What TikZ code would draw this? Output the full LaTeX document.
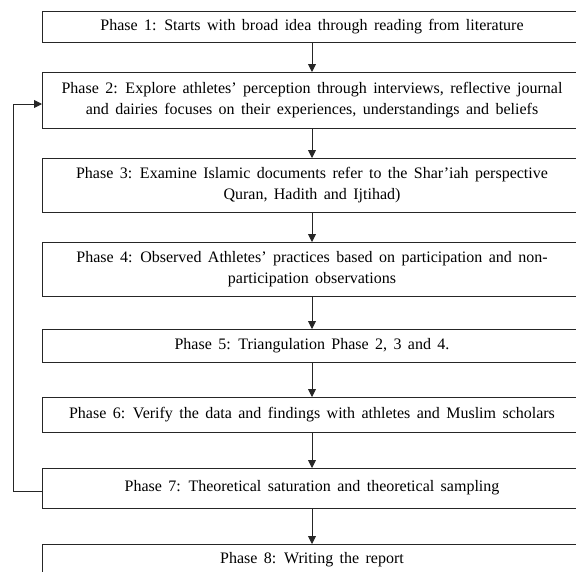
\documentclass[tikz,border=0pt]{standalone}
\usepackage{fontspec}
\setmainfont[WordSpace=1.6]{Liberation Serif}
\usetikzlibrary{arrows.meta}
\begin{document}
\begin{tikzpicture}[x=1pt,y=1pt,
  phasebox/.style={draw=black!85, line width=0.9pt, rectangle, minimum width=540pt,
    inner sep=0pt, outer sep=0pt, align=center, font=\fontsize{16}{21}\selectfont},
  arr/.style={draw=black!85, line width=0.9pt, -{Triangle[length=8pt,width=8pt]}}]
\useasboundingbox (0,0) rectangle (576,-571);
\clip (0,0) rectangle (576,-571);
\node[phasebox, minimum height=31pt] (p1) at (312,-26.5) {Phase 1: Starts with broad idea through reading from literature};
\node[phasebox, minimum height=56pt] (p2) at (312,-100) {Phase 2: Explore athletes’ perception through interviews, reflective journal\\and dairies focuses on their experiences, understandings and beliefs};
\node[phasebox, minimum height=54pt] (p3) at (312,-185) {Phase 3: Examine Islamic documents refer to the Shar’iah perspective\\Quran, Hadith and Ijtihad)};
\node[phasebox, minimum height=54pt] (p4) at (312,-269) {Phase 4: Observed Athletes’ practices based on participation and non-\\participation observations};
\node[phasebox, minimum height=33pt] (p5) at (312,-345.5) {Phase 5: Triangulation Phase 2, 3 and 4.};
\node[phasebox, minimum height=35pt] (p6) at (312,-414.5) {Phase 6: Verify the data and findings with athletes and Muslim scholars};
\node[phasebox, minimum height=40pt] (p7) at (312,-488) {Phase 7: Theoretical saturation and theoretical sampling};
\node[phasebox, minimum height=32pt] (p8) at (312,-560) {Phase 8: Writing the report};
\draw[arr] (p1.south) -- (p2.north);
\draw[arr] (p2.south) -- (p3.north);
\draw[arr] (p3.south) -- (p4.north);
\draw[arr] (p4.south) -- (p5.north);
\draw[arr] (p5.south) -- (p6.north);
\draw[arr] (p6.south) -- (p7.north);
\draw[arr] (p7.south) -- (p8.north);
\coordinate (fb) at (13,0);
\draw[arr] ([yshift=-3pt]p7.west) -- ([yshift=-3pt]p7.west -| fb) |- ([yshift=-4pt]p2.west);
\end{tikzpicture}
\end{document}
